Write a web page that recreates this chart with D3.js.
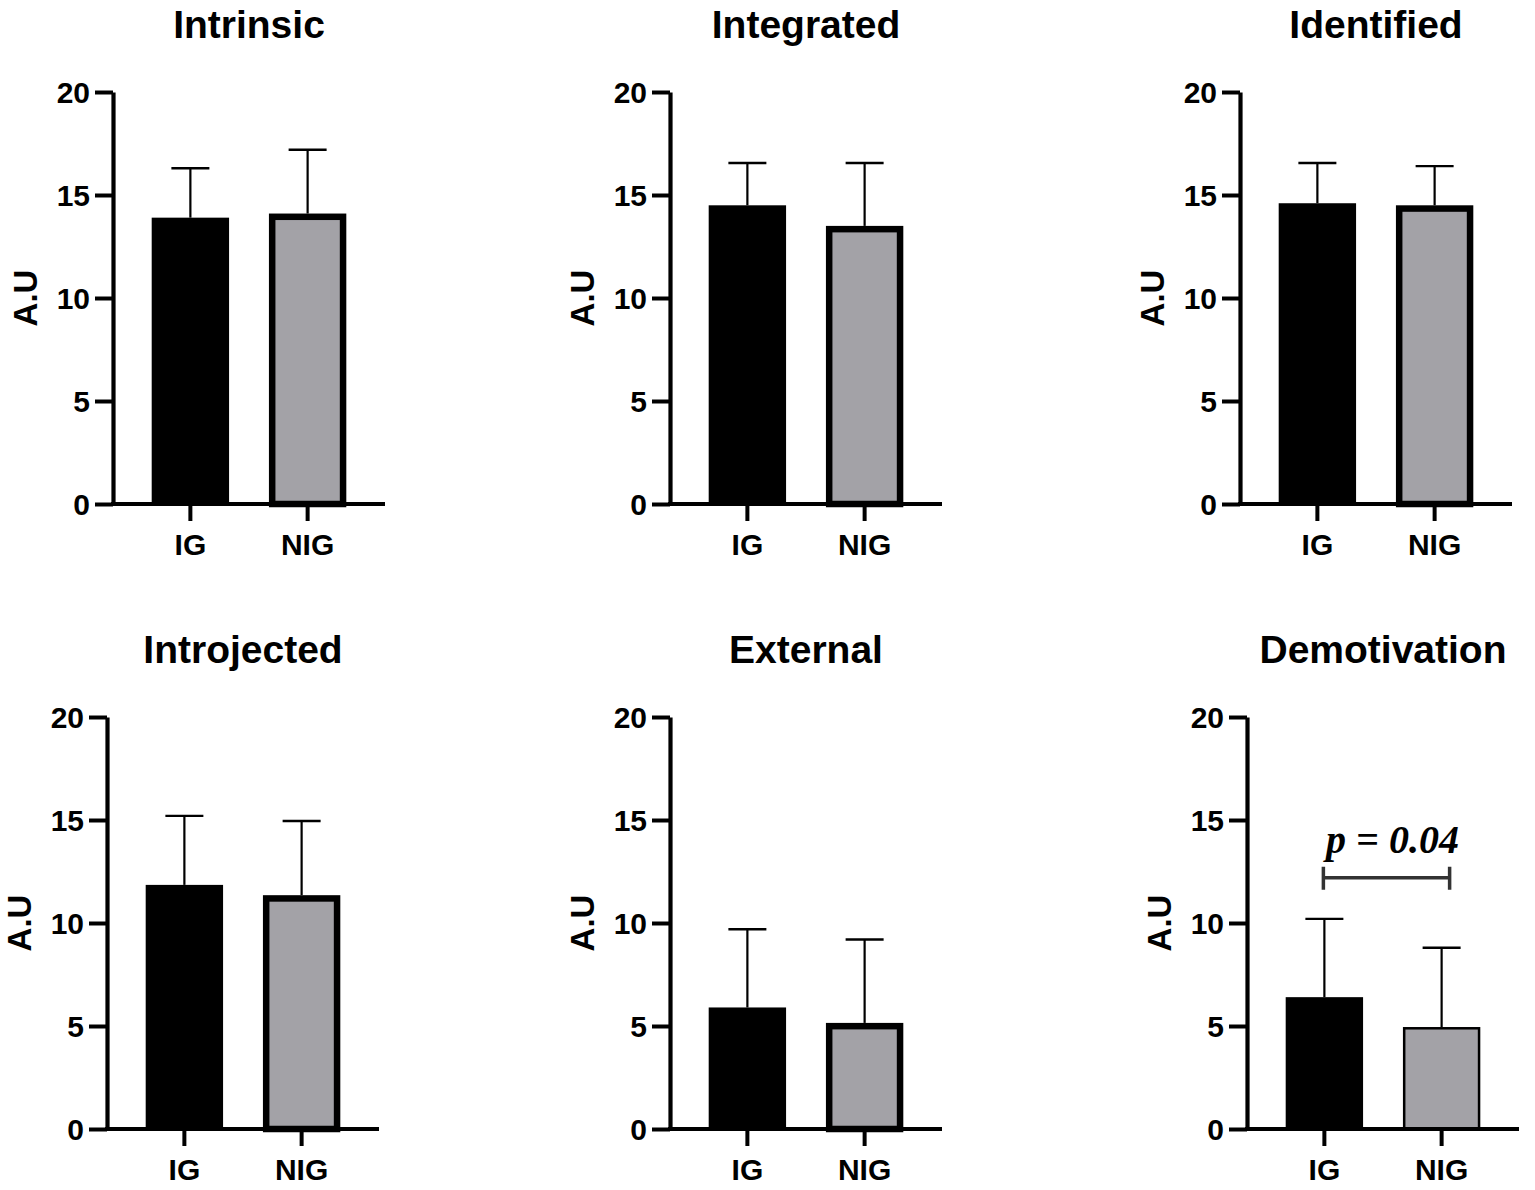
<!DOCTYPE html>
<html>
<head>
<meta charset="utf-8">
<script src="https://cdn.jsdelivr.net/npm/d3@7.9.0/dist/d3.min.js"></script>
<style>
  html, body { margin: 0; padding: 0; background: #fff; }
  svg { display: block; }
  text { font-family: Arial, "Liberation Sans", sans-serif; font-weight: bold; fill: #000; }
</style>
</head>
<body>
<svg id="chart" width="1535" height="1190"></svg>
<script>
// Panel titles and groups
const panels = ['Intrinsic', 'Integrated', 'Identified', 'Introjected', 'External', 'Demotivation'];
const groups = ['IG', 'NIG'];
const yTicks = [0, 5, 10, 15, 20];

// Means and upper error bar ends (mean + SD)
const igMean = [13.9, 14.5, 14.6, 11.85, 5.9, 6.4];
const igUpper = [16.3, 16.55, 16.55, 15.2, 9.7, 10.2];
const nigMean = [14.1, 13.5, 14.5, 11.35, 5.15, 4.95];
const nigUpper = [17.2, 16.55, 16.4, 14.95, 9.2, 8.8];

// Only one comparison was flagged
const significance = [null, null, null, null, null, 'p = 0.04'];

// Layout: y-axis x position per panel, rows top/bottom
const axisX = [113, 670, 1240, 107, 670, 1247];
const rowTop = [92, 717];
const plotH = 412;
const plotW = 272;

const svg = d3.select('#chart');

panels.forEach((name, i) => {
  const row = i < 3 ? 0 : 1;
  const g = svg.append('g').attr('transform', `translate(${axisX[i]},${rowTop[row]})`);

  const y = d3.scaleLinear().domain([0, 20]).range([plotH, 0]);
  const x = d3.scaleBand().domain(groups).range([0, plotW])
    .paddingInner(0.34).paddingOuter(0.33).align(0.5);

  // Title
  g.append('text')
    .attr('x', x('IG') + (x('NIG') + x.bandwidth() - x('IG')) / 2)
    .attr('y', -54)
    .attr('text-anchor', 'middle')
    .attr('font-size', 39)
    .text(name);

  // y label
  g.append('text')
    .attr('transform', `translate(-76,${plotH / 2}) rotate(-90)`)
    .attr('text-anchor', 'middle')
    .attr('font-size', 33)
    .text('A.U');

  const vals = [
    { grp: 'IG', mean: igMean[i], upper: igUpper[i] },
    { grp: 'NIG', mean: nigMean[i], upper: nigUpper[i] }
  ];

  // error bars (upper only), drawn first so the bar covers the stem
  vals.forEach(d => {
    const cx = x(d.grp) + x.bandwidth() / 2;
    g.append('line')
      .attr('x1', cx).attr('x2', cx)
      .attr('y1', y(d.mean)).attr('y2', y(d.upper))
      .attr('stroke', '#000').attr('stroke-width', 2.2);
    g.append('line')
      .attr('x1', cx - 19).attr('x2', cx + 19)
      .attr('y1', y(d.upper)).attr('y2', y(d.upper))
      .attr('stroke', '#000').attr('stroke-width', 2.4);
  });

  vals.forEach(d => {
    if (d.grp === 'IG') {
      g.append('rect')
        .attr('x', x(d.grp)).attr('y', y(d.mean))
        .attr('width', x.bandwidth()).attr('height', y(0) - y(d.mean))
        .attr('fill', '#000');
    } else {
      const sw = i === 5 ? 2.5 : 6.5;
      g.append('rect')
        .attr('x', x(d.grp) + sw / 2).attr('y', y(d.mean) + sw / 2)
        .attr('width', x.bandwidth() - sw).attr('height', y(0) - y(d.mean) - sw / 2)
        .attr('fill', '#a3a2a7')
        .attr('stroke', '#000').attr('stroke-width', sw);
    }
  });

  // y axis
  const ya = g.append('g')
    .call(d3.axisLeft(y).tickValues(yTicks).tickSize(18).tickSizeOuter(0).tickPadding(5).tickFormat(d3.format('d')));
  ya.select('.domain').attr('stroke-width', 4.2);
  ya.selectAll('.tick line').attr('stroke-width', 4);
  ya.selectAll('.tick text')
    .attr('font-size', 30).attr('font-family', 'Arial, "Liberation Sans", sans-serif')
    .attr('font-weight', 'bold').attr('dy', '0.36em');

  // x axis
  const xa = g.append('g').attr('transform', `translate(0,${plotH})`)
    .call(d3.axisBottom(x).tickSize(17).tickSizeOuter(0).tickPadding(13));
  xa.select('.domain').attr('stroke-width', 4.2).attr('d', `M-2,0H${plotW}`);
  xa.selectAll('.tick line').attr('stroke-width', 4);
  xa.selectAll('.tick text')
    .attr('font-size', 30).attr('font-family', 'Arial, "Liberation Sans", sans-serif')
    .attr('font-weight', 'bold');

  // significance bracket
  if (significance[i]) {
    const x1 = x('IG') + x.bandwidth() / 2 - 1;
    const x2 = x('NIG') + x.bandwidth() / 2 + 8;
    const yb = y(12.2);
    g.append('path')
      .attr('d', `M${x1},${yb}H${x2}M${x1},${yb - 11}V${yb + 12}M${x2},${yb - 11}V${yb + 12}`)
      .attr('stroke', '#333').attr('stroke-width', 3.5).attr('fill', 'none');
    g.append('text')
      .attr('x', (x1 + x2) / 2 + 6)
      .attr('y', yb - 25)
      .attr('text-anchor', 'middle')
      .attr('font-size', 40)
      .attr('font-style', 'italic')
      .attr('font-weight', 'bold')
      .style('font-family', '"Liberation Serif", "Times New Roman", serif')
      .text(significance[i]);
  }
});
</script>
</body>
</html>
